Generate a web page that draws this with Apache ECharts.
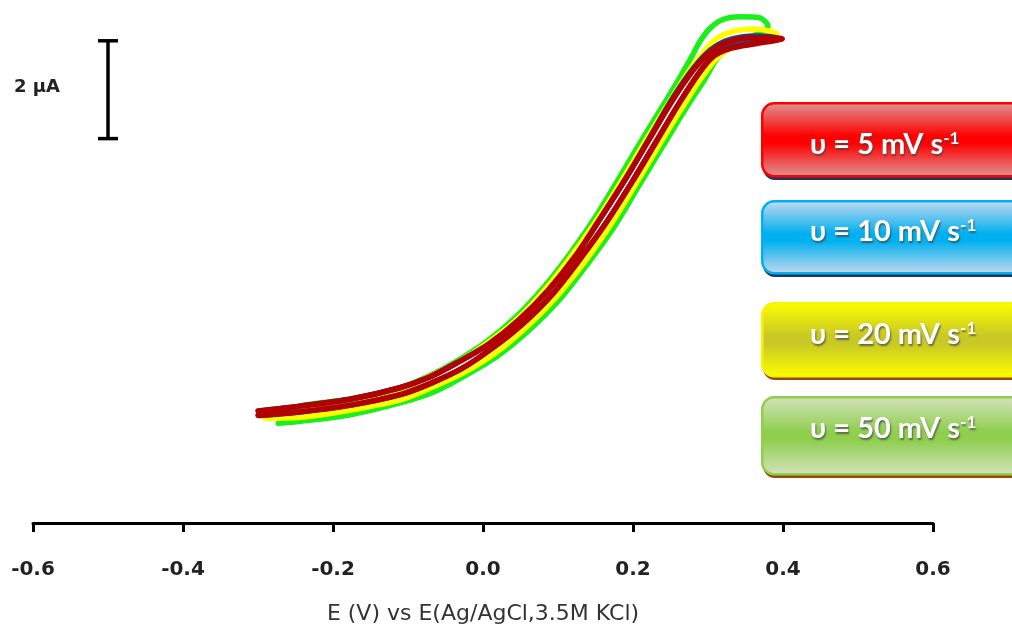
<!DOCTYPE html>
<html><head><meta charset="utf-8">
<script src="https://cdn.jsdelivr.net/npm/echarts@6/dist/echarts.min.js"></script>
<style>html,body{margin:0;padding:0;background:#fff}#c{width:1012px;height:630px}</style>
</head><body><div id="c"></div>
<script>
// ---- data (x: potential in V, y: current in µA) ----
const xTicks = [-0.6, -0.4, -0.2, 0.0, 0.2, 0.4, 0.6];
const axisTitle = 'E (V) vs E(Ag/AgCl,3.5M KCl)';
const scaleLabel = '2 µA';
const scaleBar = [[-0.5, 7.86], [-0.5, 9.86]];
const rateLabels = ['υ = 5 mV s', 'υ = 10 mV s', 'υ = 20 mV s', 'υ = 50 mV s'];
const rateSup = '-1';

const v5Fwd = [[-0.300,2.20],[-0.244,2.27],[-0.176,2.41],[-0.109,2.63],[-0.069,2.86],[-0.028,3.16],[0.012,3.57],[0.052,4.06],[0.092,4.67],[0.129,5.39],[0.165,6.16],[0.199,6.98],[0.231,7.80],[0.261,8.57],[0.287,9.18],[0.308,9.55],[0.331,9.71],[0.363,9.80],[0.399,9.90]];
const v5Rev = [[0.399,9.94],[0.363,9.92],[0.328,9.84],[0.303,9.63],[0.281,9.27],[0.253,8.65],[0.223,7.88],[0.191,7.06],[0.157,6.24],[0.124,5.47],[0.087,4.76],[0.047,4.14],[0.007,3.65],[-0.033,3.29],[-0.072,2.98],[-0.112,2.76],[-0.177,2.53],[-0.244,2.39],[-0.300,2.29]];

const v10Fwd = [[-0.298,2.20],[-0.244,2.27],[-0.176,2.41],[-0.109,2.63],[-0.069,2.86],[-0.028,3.16],[0.012,3.57],[0.052,4.06],[0.092,4.67],[0.129,5.39],[0.165,6.16],[0.199,6.98],[0.231,7.80],[0.261,8.57],[0.287,9.18],[0.308,9.57],[0.331,9.74],[0.363,9.84],[0.393,9.92]];
const v10Rev = [[0.393,9.96],[0.363,9.96],[0.328,9.88],[0.303,9.67],[0.281,9.31],[0.253,8.69],[0.223,7.90],[0.191,7.06],[0.157,6.24],[0.124,5.47],[0.087,4.76],[0.047,4.14],[0.007,3.65],[-0.033,3.29],[-0.072,2.98],[-0.112,2.76],[-0.177,2.53],[-0.244,2.39],[-0.298,2.29]];

const v20Fwd = [[-0.291,2.14],[-0.243,2.16],[-0.176,2.31],[-0.108,2.53],[-0.067,2.78],[-0.025,3.08],[0.016,3.47],[0.056,3.98],[0.097,4.61],[0.135,5.33],[0.171,6.12],[0.204,6.94],[0.236,7.76],[0.267,8.53],[0.292,9.12],[0.312,9.51],[0.336,9.76],[0.365,9.92],[0.392,10.00]];
const v20Rev = [[0.392,10.04],[0.365,10.10],[0.336,10.06],[0.311,9.90],[0.292,9.59],[0.276,9.27],[0.251,8.67],[0.220,7.90],[0.188,7.08],[0.155,6.27],[0.120,5.51],[0.084,4.80],[0.045,4.16],[0.005,3.67],[-0.033,3.29],[-0.071,3.00],[-0.111,2.73],[-0.177,2.49],[-0.244,2.33],[-0.291,2.18]];

const v50Fwd = [[-0.273,2.04],[-0.243,2.08],[-0.175,2.22],[-0.107,2.47],[-0.064,2.69],[-0.023,3.02],[0.019,3.41],[0.060,3.92],[0.101,4.55],[0.139,5.29],[0.175,6.06],[0.208,6.90],[0.240,7.71],[0.271,8.49],[0.296,9.08],[0.313,9.51],[0.337,9.80],[0.363,9.98],[0.380,10.16]];
const v50Rev = [[0.380,10.24],[0.369,10.33],[0.343,10.35],[0.319,10.29],[0.303,10.12],[0.289,9.84],[0.276,9.47],[0.247,8.71],[0.216,7.94],[0.184,7.12],[0.152,6.31],[0.117,5.53],[0.081,4.82],[0.043,4.20],[0.005,3.71],[-0.035,3.31],[-0.073,3.00],[-0.112,2.76],[-0.179,2.53],[-0.244,2.39],[-0.273,2.16]];

// ---- chart ----
const loop = (f, r) => f.concat(r.slice(1));
const FONT = 'Lato, "Noto Sans", sans-serif';
const AXFONT = '"DejaVu Sans", sans-serif';
const chart = echarts.init(document.getElementById('c'), null, {renderer: 'canvas'});

function curve(name, data, color) {
  return {
    name, type: 'line', data, showSymbol: false, smooth: 0.3, clip: false, silent: true,
    lineStyle: {color, width: 5.5, cap: 'round', join: 'round'}
  };
}

function box(top, h, c, textY, label) {
  const left = 761, width = 265;
  const shadow = {textShadowColor: 'rgba(60,60,60,0.7)', textShadowOffsetX: 1, textShadowOffsetY: 2, textShadowBlur: 2};
  return [
    {type: 'rect', left: left + 2, top: top + 5, silent: true, z: 10,
     shape: {width, height: h, r: 12}, style: {fill: c.shadow}},
    {type: 'rect', left, top, silent: true, z: 11,
     shape: {width, height: h, r: 12},
     style: {
       fill: new echarts.graphic.LinearGradient(0, 0, 0, 1, [
         {offset: 0, color: c.light}, {offset: 0.45, color: c.mid},
         {offset: 0.55, color: c.mid}, {offset: 1, color: c.light}]),
       stroke: c.border, lineWidth: 2.5}},
    {type: 'text', x: 810, y: textY, silent: true, z: 12,
     style: {
       text: '{m|' + label + '}{s|' + rateSup + '}',
       verticalAlign: 'middle', align: 'left',
       rich: {
         m: Object.assign({fontSize: 29, fontWeight: 'bold', fontFamily: FONT, fill: '#fff', color: '#fff'}, shadow),
         s: Object.assign({fontSize: 17, fontWeight: 'bold', fontFamily: FONT, fill: '#fff', color: '#fff', verticalAlign: 'top'}, shadow)
       }
     }}
  ];
}

const option = {
  backgroundColor: '#fff',
  animation: false,
  grid: {left: 33, right: 79, top: 4.6, bottom: 106, containLabel: false},
  xAxis: {
    type: 'value', min: -0.6, max: 0.6, interval: 0.2,
    axisLine: {show: true, onZero: false, lineStyle: {color: '#000', width: 3}},
    axisTick: {show: true, inside: false, length: 9, lineStyle: {color: '#000', width: 3}},
    splitLine: {show: false},
    axisLabel: {
      margin: 37, color: '#222', fontSize: 20, fontWeight: 'bold', fontFamily: AXFONT,
      showMinLabel: true, showMaxLabel: true,
      formatter: v => { const t = xTicks.find(k => Math.abs(k - v) < 1e-9); return (t === undefined ? v : t).toFixed(1); }
    },
    name: axisTitle, nameLocation: 'middle', nameGap: 80,
    nameTextStyle: {color: '#333', fontSize: 22, fontFamily: AXFONT, fontWeight: 'normal'}
  },
  yAxis: {type: 'value', min: 0, max: 10.6, show: false},
  series: [
    curve('50', loop(v50Fwd, v50Rev), '#1bef1b'),
    curve('20', loop(v20Fwd, v20Rev), '#ffff00'),
    curve('10', loop(v10Fwd, v10Rev), '#26407e'),
    curve('5', loop(v5Fwd, v5Rev), '#b30000'),
    {type: 'line', data: scaleBar, symbol: 'rect', symbolSize: [20, 3.5], showSymbol: true,
     silent: true, clip: false, lineStyle: {color: '#000', width: 3.5}, itemStyle: {color: '#000'}}
  ],
  graphic: [
    {type: 'text', left: 14, top: 78, silent: true,
     style: {text: scaleLabel, fontSize: 18, fontWeight: 'bold', fontFamily: AXFONT, fill: '#222'}},
    ...box(102, 73, {light: '#dc9896', mid: '#ff0000', border: '#ff0000', shadow: '#1f3560'}, 145, rateLabels[0]),
    ...box(200, 72, {light: '#c8daee', mid: '#00b0f0', border: '#00b0f0', shadow: '#1f3560'}, 232, rateLabels[1]),
    ...box(302, 73, {light: '#ffff00', mid: '#c8c826', border: '#f5f500', shadow: '#9a4a06'}, 335, rateLabels[2]),
    ...box(396, 77, {light: '#d6e3bf', mid: '#8fce4e', border: '#8fce4e', shadow: '#9a4a06'}, 429, rateLabels[3])
  ]
};
chart.setOption(option);
</script>
</body></html>
